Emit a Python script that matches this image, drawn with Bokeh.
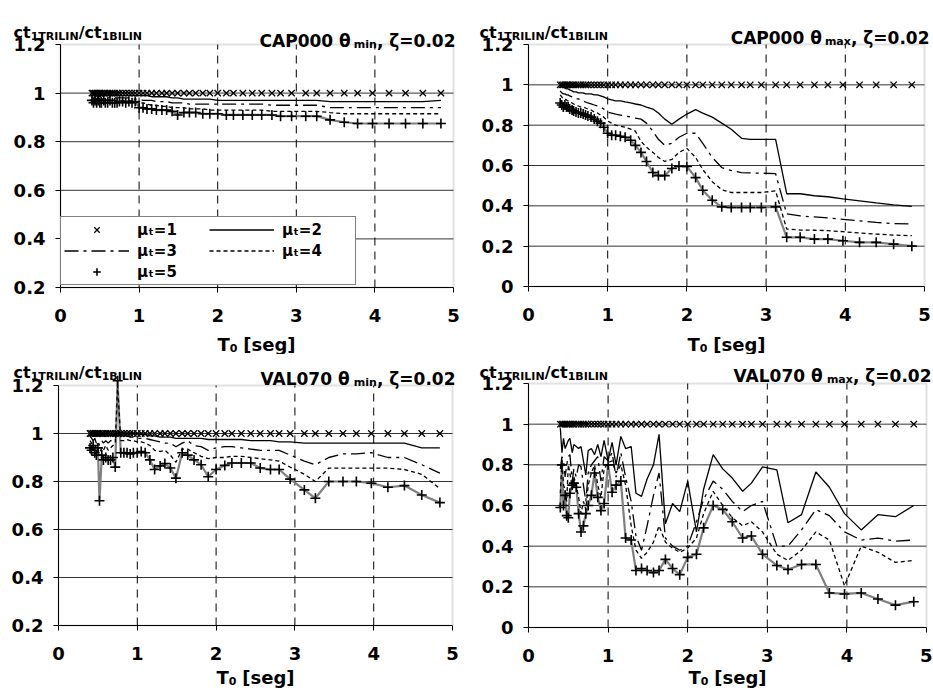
from bokeh.plotting import figure
from bokeh.layouts import column, row
from bokeh.models import (Range1d, FixedTicker, CustomJSTickFormatter, Label,
                          Legend, LegendItem, ColumnDataSource, BoxAnnotation)
from bokeh.embed import file_html
from bokeh.resources import INLINE

# ---------------- data ----------------
T0 = [0.40, 0.42, 0.44, 0.46, 0.48, 0.50, 0.52, 0.55, 0.57, 0.60, 0.63, 0.66, 0.69, 0.72, 0.75, 0.79, 0.83, 0.87, 0.91, 0.95,
      1.00, 1.05, 1.10, 1.16, 1.22, 1.29, 1.35, 1.42, 1.49, 1.57, 1.64, 1.72, 1.81, 1.90,
      2.00, 2.11, 2.20, 2.32, 2.44, 2.56, 2.69, 2.80, 2.94, 3.12, 3.26, 3.43, 3.61, 3.78, 3.97, 4.18, 4.39, 4.61, 4.84]

MU1 = [1.0, 1.0, 1.0, 1.0, 1.0, 1.0, 1.0, 1.0, 1.0, 1.0, 1.0, 1.0, 1.0, 1.0, 1.0, 1.0, 1.0, 1.0, 1.0, 1.0,
       1.0, 1.0, 1.0, 1.0, 1.0, 1.0, 1.0, 1.0, 1.0, 1.0, 1.0, 1.0, 1.0, 1.0,
       1.0, 1.0, 1.0, 1.0, 1.0, 1.0, 1.0, 1.0, 1.0, 1.0, 1.0, 1.0, 1.0, 1.0, 1.0, 1.0, 1.0, 1.0, 1.0]

# CAP000 theta_min
CAP_MIN_MU2 = [1.00, 1.00, 1.00, 0.99, 1.00, 1.00, 0.99, 1.00, 0.99, 0.99, 0.99, 0.99, 0.99, 0.99, 0.99, 0.99, 0.99, 0.99, 0.99, 0.99,
               0.99, 0.99, 0.99, 0.985, 0.985, 0.985, 0.985, 0.98, 0.98, 0.975, 0.975, 0.975, 0.975, 0.975,
               0.97, 0.97, 0.97, 0.97, 0.97, 0.97, 0.97, 0.97, 0.97, 0.97, 0.97, 0.965, 0.965, 0.965, 0.965, 0.965, 0.965, 0.965, 0.97]
CAP_MIN_MU3 = [0.99, 0.99, 0.99, 0.99, 0.98, 0.99, 0.98, 0.98, 0.98, 0.98, 0.98, 0.98, 0.98, 0.98, 0.98, 0.98, 0.98, 0.98, 0.975, 0.975,
               0.975, 0.97, 0.97, 0.97, 0.965, 0.965, 0.965, 0.96, 0.96, 0.96, 0.955, 0.955, 0.955, 0.955,
               0.955, 0.955, 0.955, 0.955, 0.955, 0.955, 0.95, 0.95, 0.95, 0.95, 0.95, 0.94, 0.94, 0.94, 0.94, 0.94, 0.94, 0.94, 0.94]
CAP_MIN_MU4 = [0.98, 0.98, 0.98, 0.97, 0.98, 0.97, 0.97, 0.98, 0.97, 0.97, 0.97, 0.97, 0.97, 0.97, 0.97, 0.97, 0.97, 0.97, 0.965, 0.965,
               0.96, 0.96, 0.955, 0.95, 0.95, 0.945, 0.945, 0.94, 0.94, 0.94, 0.935, 0.935, 0.935, 0.93,
               0.93, 0.93, 0.93, 0.93, 0.93, 0.93, 0.925, 0.925, 0.925, 0.925, 0.925, 0.92, 0.915, 0.915, 0.915, 0.915, 0.915, 0.915, 0.915]
CAP_MIN_MU5 = [0.97, 0.96, 0.97, 0.96, 0.97, 0.96, 0.96, 0.97, 0.96, 0.96, 0.97, 0.96, 0.96, 0.96, 0.965, 0.965, 0.96, 0.965, 0.96, 0.965,
               0.94, 0.94, 0.935, 0.935, 0.93, 0.93, 0.93, 0.925, 0.91, 0.92, 0.92, 0.92, 0.915, 0.915,
               0.915, 0.91, 0.91, 0.91, 0.91, 0.91, 0.91, 0.905, 0.905, 0.905, 0.905, 0.89, 0.88, 0.875, 0.875, 0.875, 0.875, 0.875, 0.875]

# CAP000 theta_max
CAP_MAX_MU2 = [1.00, 0.99, 0.99, 0.985, 0.98, 0.98, 0.975, 0.97, 0.965, 0.965, 0.96, 0.96, 0.96, 0.955, 0.955, 0.955, 0.95, 0.95, 0.945, 0.94,
               0.93, 0.925, 0.92, 0.92, 0.915, 0.91, 0.905, 0.90, 0.89, 0.88, 0.86, 0.83, 0.805, 0.83,
               0.855, 0.877, 0.86, 0.84, 0.81, 0.78, 0.735, 0.73, 0.73, 0.73, 0.46, 0.46, 0.45, 0.445, 0.435, 0.425, 0.415, 0.405, 0.397]
CAP_MAX_MU3 = [0.97, 0.96, 0.955, 0.955, 0.95, 0.95, 0.945, 0.94, 0.935, 0.93, 0.93, 0.925, 0.92, 0.915, 0.91, 0.905, 0.90, 0.895, 0.89, 0.88,
               0.865, 0.86, 0.855, 0.85, 0.845, 0.84, 0.835, 0.83, 0.81, 0.77, 0.73, 0.70, 0.71, 0.74,
               0.76, 0.76, 0.71, 0.64, 0.59, 0.575, 0.565, 0.563, 0.562, 0.56, 0.36, 0.35, 0.345, 0.34, 0.333, 0.325, 0.318, 0.312, 0.31]
CAP_MAX_MU4 = [0.95, 0.94, 0.93, 0.93, 0.925, 0.92, 0.915, 0.91, 0.905, 0.90, 0.895, 0.89, 0.89, 0.885, 0.88, 0.875, 0.865, 0.86, 0.85, 0.84,
               0.82, 0.81, 0.80, 0.795, 0.79, 0.78, 0.77, 0.72, 0.69, 0.665, 0.64, 0.62, 0.63, 0.665,
               0.685, 0.64, 0.58, 0.52, 0.48, 0.466, 0.466, 0.466, 0.466, 0.474, 0.285, 0.28, 0.279, 0.277, 0.272, 0.265, 0.26, 0.255, 0.252]
CAP_MAX_MU5 = [0.91, 0.90, 0.89, 0.90, 0.89, 0.89, 0.88, 0.875, 0.87, 0.865, 0.86, 0.86, 0.855, 0.85, 0.845, 0.84, 0.83, 0.82, 0.81, 0.79,
               0.76, 0.75, 0.75, 0.745, 0.74, 0.725, 0.70, 0.665, 0.62, 0.565, 0.55, 0.55, 0.585, 0.597,
               0.595, 0.54, 0.477, 0.428, 0.395, 0.392, 0.392, 0.392, 0.392, 0.395, 0.244, 0.244, 0.235, 0.235, 0.227, 0.219, 0.219, 0.21, 0.20]

# VAL070 theta_min
VAL_MIN_MU2 = [1.00, 1.00, 0.99, 1.00, 0.99, 1.00, 0.99, 1.00, 0.99, 1.00, 0.99, 1.00, 0.99, 1.00, 1.00, 1.00, 1.00, 1.00, 1.00, 1.00,
               1.00, 0.995, 0.995, 0.99, 0.99, 0.985, 0.985, 0.985, 0.98, 0.98, 0.98, 0.98, 0.98, 0.975,
               0.975, 0.975, 0.975, 0.975, 0.97, 0.97, 0.97, 0.965, 0.965, 0.96, 0.96, 0.96, 0.96, 0.96, 0.96, 0.96, 0.96, 0.94, 0.94]
VAL_MIN_MU3 = [0.99, 0.98, 0.97, 0.98, 0.96, 0.97, 0.95, 0.97, 0.96, 0.97, 0.96, 0.97, 0.97, 0.98, 1.00, 0.99, 0.99, 0.99, 0.985, 0.985,
               0.98, 0.98, 0.98, 0.975, 0.97, 0.965, 0.96, 0.96, 0.945, 0.96, 0.97, 0.95, 0.945, 0.93,
               0.94, 0.945, 0.945, 0.94, 0.935, 0.93, 0.93, 0.93, 0.91, 0.885, 0.87, 0.90, 0.915, 0.915, 0.92, 0.90, 0.90, 0.87, 0.835]
VAL_MIN_MU4 = [0.97, 0.96, 0.95, 0.94, 0.95, 0.93, 0.92, 0.94, 0.93, 0.95, 0.93, 0.94, 0.95, 0.96, 1.20, 0.97, 0.97, 0.975, 0.97, 0.97,
               0.965, 0.965, 0.96, 0.95, 0.93, 0.925, 0.93, 0.91, 0.88, 0.935, 0.935, 0.92, 0.905, 0.895,
               0.90, 0.90, 0.905, 0.905, 0.90, 0.895, 0.89, 0.885, 0.86, 0.83, 0.80, 0.856, 0.856, 0.856, 0.856, 0.856, 0.85, 0.83, 0.77]
VAL_MIN_MU5 = [0.94, 0.93, 0.95, 0.92, 0.91, 0.94, 0.72, 0.91, 0.89, 0.90, 0.89, 0.89, 0.90, 0.86, 1.22, 0.92, 0.92, 0.92, 0.915, 0.92,
               0.92, 0.925, 0.92, 0.89, 0.85, 0.865, 0.875, 0.856, 0.814, 0.92, 0.91, 0.89, 0.87, 0.82,
               0.85, 0.867, 0.877, 0.877, 0.877, 0.856, 0.85, 0.85, 0.81, 0.765, 0.73, 0.80, 0.80, 0.80, 0.793, 0.776, 0.783, 0.744, 0.712]

# VAL070 theta_max
VAL_MAX_MU2 = [0.98, 0.86, 0.93, 0.88, 0.90, 0.92, 0.93, 0.86, 0.90, 0.89, 0.88, 0.89, 0.82, 0.75, 0.87, 0.88, 0.85, 0.90, 0.84, 0.92,
               0.82, 0.91, 0.80, 0.94, 0.88, 0.89, 0.66, 0.645, 0.73, 0.80, 0.95, 0.51, 0.61, 0.57,
               0.72, 0.47, 0.68, 0.85, 0.78, 0.735, 0.67, 0.71, 0.79, 0.775, 0.515, 0.555, 0.765, 0.69, 0.56, 0.48, 0.555, 0.545, 0.60]
VAL_MAX_MU3 = [0.78, 0.84, 0.82, 0.74, 0.80, 0.84, 0.85, 0.72, 0.78, 0.74, 0.80, 0.79, 0.70, 0.62, 0.76, 0.80, 0.82, 0.84, 0.72, 0.84,
               0.82, 0.86, 0.74, 0.86, 0.74, 0.62, 0.45, 0.38, 0.50, 0.65, 0.76, 0.44, 0.40, 0.38,
               0.40, 0.52, 0.63, 0.72, 0.68, 0.62, 0.57, 0.60, 0.62, 0.40, 0.40, 0.48, 0.58, 0.55, 0.47, 0.43, 0.44, 0.425, 0.43]
VAL_MAX_MU4 = [0.66, 0.82, 0.70, 0.68, 0.62, 0.80, 0.76, 0.68, 0.74, 0.70, 0.64, 0.56, 0.62, 0.58, 0.70, 0.76, 0.80, 0.70, 0.64, 0.78,
               0.81, 0.82, 0.76, 0.80, 0.70, 0.50, 0.38, 0.34, 0.37, 0.42, 0.50, 0.42, 0.39, 0.37,
               0.39, 0.44, 0.56, 0.67, 0.60, 0.54, 0.50, 0.52, 0.47, 0.36, 0.33, 0.38, 0.47, 0.43, 0.205, 0.40, 0.37, 0.32, 0.33]
VAL_MAX_MU5 = [0.59, 0.80, 0.60, 0.65, 0.55, 0.54, 0.66, 0.70, 0.71, 0.69, 0.56, 0.47, 0.50, 0.56, 0.60, 0.65, 0.76, 0.64, 0.575, 0.61,
               0.80, 0.665, 0.70, 0.72, 0.44, 0.43, 0.28, 0.29, 0.28, 0.27, 0.28, 0.335, 0.29, 0.26,
               0.345, 0.36, 0.49, 0.60, 0.58, 0.52, 0.44, 0.45, 0.36, 0.305, 0.285, 0.31, 0.31, 0.17, 0.165, 0.17, 0.14, 0.11, 0.127]

X_TICKS = [0, 1, 2, 3, 4, 5]
X_GRID = [1, 2, 3, 4]
Y_TICKS_02 = [0.2, 0.4, 0.6, 0.8, 1, 1.2]
Y_TICKS_00 = [0, 0.2, 0.4, 0.6, 0.8, 1, 1.2]
LEGEND_LABELS = ["μₜ=1", "μₜ=2", "μₜ=3", "μₜ=4", "μₜ=5"]

# ---------------- helpers ----------------
FONT = "DejaVu Sans"
CW = {' ': 0.348, '/': 0.365, ',': 0.380, '.': 0.380, '=': 0.838, '[': 0.457, ']': 0.457,
      'A': 0.774, 'B': 0.762, 'C': 0.734, 'I': 0.372, 'L': 0.637, 'N': 0.837, 'P': 0.733,
      'R': 0.770, 'T': 0.682, 'V': 0.774, 'a': 0.675, 'c': 0.593, 'e': 0.678, 'g': 0.716,
      'i': 0.343, 'm': 1.042, 'n': 0.712, 's': 0.595, 't': 0.478, 'x': 0.646,
      'θ': 0.69, 'ζ': 0.59, 'μ': 0.721}
for d in "0123456789":
    CW[d] = 0.696


def text_w(s, size):
    return sum(CW.get(c, 0.65) for c in s) * size


def rich(p, parts, x, y, align="left"):
    """x, y: local screen px (from figure bottom-left, y up)"""
    total = sum(text_w(t, s) + g for t, s, dy, g in parts)
    cx = x - total if align == "right" else (x - total / 2 if align == "center" else x)
    for t, s, dy, g in parts:
        p.add_layout(Label(x=cx, y=y + dy, x_units="screen", y_units="screen", text=t,
                           text_font=FONT, text_font_style="bold", text_font_size=f"{s}px",
                           text_color="black", text_baseline="alphabetic", text_align="left"))
        cx += text_w(t, s) + g


def panel(station, sub, y0, yticks, s2, s3, s4, s5, fig, box, txt, legend=False):
    fx, fy, fw, fh = fig                 # figure rectangle on the page
    px0, px5, ptop, pbot = box           # plot-area pixels on the page
    sx = (px5 - px0) / 5.0
    sy = (pbot - ptop) / (1.2 - y0)
    xr = Range1d(-(px0 - fx) / sx, 5 + (fx + fw - px5) / sx)
    yr = Range1d(y0 - (fy + fh - pbot) / sy, 1.2 + (ptop - fy) / sy)
    p = figure(width=fw, height=fh, x_range=xr, y_range=yr, output_backend="svg",
               toolbar_location=None, min_border=0)
    p.outline_line_color = None
    p.background_fill_color = "white"
    p.border_fill_color = "white"
    p.xgrid.visible = False
    p.ygrid.visible = False

    p.xaxis.fixed_location = y0
    p.yaxis.fixed_location = 0
    p.xaxis.bounds = (0, 5)
    p.yaxis.bounds = (y0, 1.2)
    p.xaxis.ticker = FixedTicker(ticks=X_TICKS)
    p.yaxis.ticker = FixedTicker(ticks=yticks)
    p.yaxis.formatter = CustomJSTickFormatter(code="return String(Math.round(tick*10)/10);")
    for ax in (p.xaxis[0], p.yaxis[0]):
        ax.major_label_text_font = FONT
        ax.major_label_text_font_style = "bold"
        ax.major_label_text_font_size = "18px"
        ax.major_label_text_color = "black"
        ax.axis_line_color = "black"
        ax.axis_line_width = 1
        ax.major_tick_line_color = "black"
        ax.major_tick_in = 0
        ax.major_tick_out = 5
        ax.minor_tick_line_color = None
    p.xaxis.major_label_standoff = 16
    p.yaxis.major_label_standoff = 10

    # plot-area border (grey, as the original chart area)
    p.add_layout(BoxAnnotation(left=0, right=5, bottom=y0, top=1.2, fill_alpha=0,
                               line_color="#9a9a9a", line_width=2, level="underlay"))
    # grid lines
    hy = [v for v in yticks if y0 < v < 1.2]
    p.segment(x0=[0] * len(hy), x1=[5] * len(hy), y0=hy, y1=hy, line_color="#333333", line_width=1)
    p.segment(x0=X_GRID, x1=X_GRID, y0=[y0] * len(X_GRID), y1=[1.2] * len(X_GRID),
              line_color="black", line_width=1, line_dash="8 6")

    src = ColumnDataSource(dict(t=T0, m1=MU1, m2=s2, m3=s3, m4=s4, m5=s5))
    p.line("t", "m5", source=src, line_color="#808080", line_width=2.2)
    r4 = p.line("t", "m4", source=src, line_color="black", line_width=1.3, line_dash="4 3")
    r3 = p.line("t", "m3", source=src, line_color="black", line_width=1.3, line_dash="14 5 3 5")
    r2 = p.line("t", "m2", source=src, line_color="black", line_width=1.3)
    r5m = p.scatter("t", "m5", source=src, marker="cross", size=10, line_color="black", line_width=1.6)
    r1 = p.scatter("t", "m1", source=src, marker="x", size=9, line_color="black", line_width=1.3)

    if legend:
        ls = ColumnDataSource(dict(t=[], v=[]))
        l5 = p.line("t", "v", source=ls, line_color="black", line_width=1.3)
        items = [LegendItem(label=LEGEND_LABELS[0], renderers=[r1]),
                 LegendItem(label=LEGEND_LABELS[1], renderers=[r2]),
                 LegendItem(label=LEGEND_LABELS[2], renderers=[r3]),
                 LegendItem(label=LEGEND_LABELS[3], renderers=[r4]),
                 LegendItem(label=LEGEND_LABELS[4], renderers=[l5, r5m])]
        lg = Legend(items=items, location=(px0 - fx, fy + fh - (pbot - 2)),
                    orientation="horizontal", ncols=2,
                    border_line_color="black", border_line_width=1,
                    background_fill_color="white", background_fill_alpha=1,
                    label_text_font=FONT, label_text_font_style="bold", label_text_font_size="15px",
                    label_text_color="black",
                    glyph_width=65, glyph_height=19, label_height=19, label_width=70,
                    label_standoff=8, padding=3, spacing=2, margin=0)
        p.add_layout(lg)

    ylx, yly, trx, try_, xlx, xly = txt
    L = lambda X: X - fx
    B = lambda Y: fy + fh - Y
    rich(p, [("ct", 16, 0, 0), ("1TRILIN", 11, -4, 0), ("/ct", 16, 0, 0), ("1BILIN", 11, -4, 0)],
         L(ylx), B(yly))
    rich(p, [(station + " θ", 17, 0, 3), (sub, 11, -4, 0), (", ζ=0.02", 17, 0, 0)],
         L(trx), B(try_), align="right")
    rich(p, [("T", 18, 0, 0), ("0", 11, -3, 6), ("[seg]", 18, 0, 0)], L(xlx), B(xly), align="center")
    return p


# figure rectangles on the page: (x, y, w, h)
p_tl = panel("CAP000", "min", 0.2, Y_TICKS_02, CAP_MIN_MU2, CAP_MIN_MU3, CAP_MIN_MU4, CAP_MIN_MU5,
             (0, 0, 466, 354), (60, 453, 44, 287), (13, 32, 455, 40, 256, 344), legend=True)
p_tr = panel("CAP000", "max", 0.0, Y_TICKS_00, CAP_MAX_MU2, CAP_MAX_MU3, CAP_MAX_MU4, CAP_MAX_MU5,
             (466, 0, 466, 354), (528, 924, 44, 286), (479, 32, 929, 37, 726, 344))
p_bl = panel("VAL070", "min", 0.2, Y_TICKS_02, VAL_MIN_MU2, VAL_MIN_MU3, VAL_MIN_MU4, VAL_MIN_MU5,
             (0, 354, 466, 335), (58, 452, 385, 625), (13, 372, 455, 378, 255, 677))
p_br = panel("VAL070", "max", 0.0, Y_TICKS_00, VAL_MAX_MU2, VAL_MAX_MU3, VAL_MAX_MU4, VAL_MAX_MU5,
             (466, 354, 466, 335), (528, 926, 383, 627), (479, 372, 931, 375, 727, 677))

layout = column(row(p_tl, p_tr), row(p_bl, p_br))
open("out.html", "w").write(file_html(layout, INLINE, title="ct ratio"))
